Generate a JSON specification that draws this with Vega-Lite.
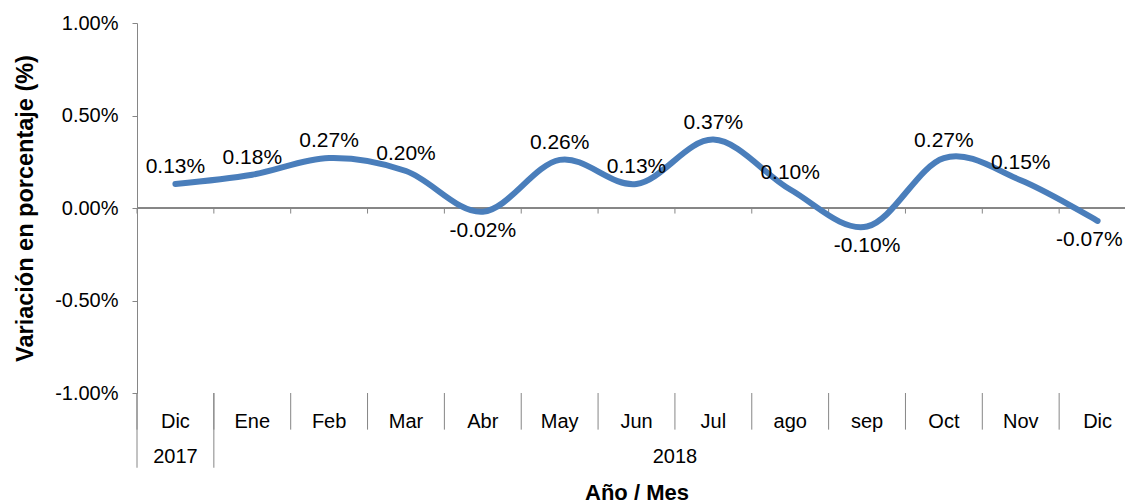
{
  "$schema": "https://vega.github.io/schema/vega-lite/v6.json",
  "width": 999,
  "height": 370,
  "autosize": {"type": "none"},
  "padding": {"left": 137, "top": 23, "right": 0, "bottom": 111},
  "config": {
    "view": {"stroke": null},
    "font": "Liberation Sans",
    "locale": {
      "number": {"decimal": ".", "thousands": ",", "grouping": [3], "currency": ["$", ""], "minus": "-"}
    }
  },
  "datasets": {
    "serie": [
      {"clave": "Dic-2017", "mes": "Dic", "anio": "2017", "variacion": 0.0013},
      {"clave": "Ene-2018", "mes": "Ene", "anio": "2018", "variacion": 0.0018},
      {"clave": "Feb-2018", "mes": "Feb", "anio": "2018", "variacion": 0.0027},
      {"clave": "Mar-2018", "mes": "Mar", "anio": "2018", "variacion": 0.0020},
      {"clave": "Abr-2018", "mes": "Abr", "anio": "2018", "variacion": -0.0002},
      {"clave": "May-2018", "mes": "May", "anio": "2018", "variacion": 0.0026},
      {"clave": "Jun-2018", "mes": "Jun", "anio": "2018", "variacion": 0.0013},
      {"clave": "Jul-2018", "mes": "Jul", "anio": "2018", "variacion": 0.0037},
      {"clave": "ago-2018", "mes": "ago", "anio": "2018", "variacion": 0.0010},
      {"clave": "sep-2018", "mes": "sep", "anio": "2018", "variacion": -0.0010},
      {"clave": "Oct-2018", "mes": "Oct", "anio": "2018", "variacion": 0.0027},
      {"clave": "Nov-2018", "mes": "Nov", "anio": "2018", "variacion": 0.0015},
      {"clave": "Dic-2018", "mes": "Dic", "anio": "2018", "variacion": -0.0007}
    ],
    "anios": [
      {"anio": "2017", "clave": "Dic-2017"},
      {"anio": "2018", "clave": "Jun-2018"}
    ],
    "separadores": [
      {"clave": "Dic-2017"},
      {"clave": "Ene-2018"}
    ]
  },
  "data": {"name": "serie"},
  "layer": [
    {
      "mark": {"type": "rule", "color": "#868686", "strokeWidth": 1},
      "encoding": {"y": {"datum": 0}}
    },
    {
      "mark": {"type": "rule", "color": "#868686", "strokeWidth": 1},
      "encoding": {
        "x": {"field": "clave", "type": "nominal", "bandPosition": 0, "title": "Año / Mes"},
        "y": {"datum": 0},
        "y2": {"datum": -0.0003}
      }
    },
    {
      "mark": {"type": "rule", "color": "#868686", "strokeWidth": 1, "clip": false},
      "encoding": {
        "x": {"field": "clave", "type": "nominal", "bandPosition": 0, "title": "Año / Mes"},
        "y": {"datum": -0.01},
        "y2": {"datum": -0.01198}
      }
    },
    {
      "data": {"name": "separadores"},
      "mark": {"type": "rule", "color": "#868686", "strokeWidth": 1, "clip": false},
      "encoding": {
        "x": {"field": "clave", "type": "nominal", "bandPosition": 0, "title": "Año / Mes"},
        "y": {"datum": -0.01},
        "y2": {"datum": -0.01404}
      }
    },
    {
      "mark": {"type": "line", "interpolate": "cardinal", "strokeWidth": 6, "color": "#4A7EBB", "strokeCap": "round", "strokeJoin": "round"},
      "encoding": {
        "x": {
          "field": "clave",
          "type": "nominal",
          "title": "Año / Mes",
          "sort": null,
          "scale": {
            "domain": ["Dic-2017", "Ene-2018", "Feb-2018", "Mar-2018", "Abr-2018", "May-2018", "Jun-2018", "Jul-2018", "ago-2018", "sep-2018", "Oct-2018", "Nov-2018", "Dic-2018"],
            "paddingInner": 0,
            "paddingOuter": 0
          },
          "axis": {
            "orient": "bottom",
            "domain": false,
            "grid": false,
            "ticks": false,
            "labelExpr": "split(datum.value, '-')[0]",
            "labelAngle": 0,
            "labelAlign": "center",
            "labelFontSize": 20,
            "labelColor": "#000000",
            "labelPadding": 34,
            "labelBaseline": "alphabetic",
            "titleFontSize": 22,
            "titleFontWeight": "bold",
            "titleColor": "#000000",
            "titleY": 106,
            "titleBaseline": "alphabetic"
          }
        },
        "y": {
          "field": "variacion",
          "type": "quantitative",
          "scale": {"domain": [-0.01, 0.01], "nice": false, "zero": false},
          "axis": {
            "title": "Variación en porcentaje (%)",
            "format": ".2%",
            "values": [-0.01, -0.005, 0, 0.005, 0.01],
            "grid": false,
            "domainColor": "#868686",
            "tickColor": "#868686",
            "tickSize": 5,
            "labelFontSize": 20,
            "labelColor": "#000000",
            "labelPadding": 14,
            "titleFontSize": 23.5,
            "titleFontWeight": "bold",
            "titleColor": "#000000",
            "titleX": -105,
            "titleY": 185,
            "titleAngle": -90,
            "titleAlign": "center",
            "titleBaseline": "alphabetic"
          }
        }
      }
    },
    {
      "transform": [{"filter": "datum.variacion >= 0"}],
      "mark": {"type": "text", "fontSize": 21, "baseline": "alphabetic", "dy": -11, "color": "#000000"},
      "encoding": {
        "x": {"field": "clave", "type": "nominal", "title": "Año / Mes"},
        "y": {"field": "variacion", "type": "quantitative"},
        "text": {"field": "variacion", "type": "quantitative", "format": ".2%"}
      }
    },
    {
      "transform": [{"filter": "datum.variacion < 0 && datum.clave != 'Dic-2018'"}],
      "mark": {"type": "text", "fontSize": 21, "baseline": "alphabetic", "dy": 25, "color": "#000000"},
      "encoding": {
        "x": {"field": "clave", "type": "nominal", "title": "Año / Mes"},
        "y": {"field": "variacion", "type": "quantitative"},
        "text": {"field": "variacion", "type": "quantitative", "format": ".2%"}
      }
    },
    {
      "transform": [{"filter": "datum.clave == 'Dic-2018'"}],
      "mark": {"type": "text", "fontSize": 21, "baseline": "alphabetic", "align": "right", "dx": 25, "dy": 25, "color": "#000000"},
      "encoding": {
        "x": {"field": "clave", "type": "nominal", "title": "Año / Mes"},
        "y": {"field": "variacion", "type": "quantitative"},
        "text": {"field": "variacion", "type": "quantitative", "format": ".2%"}
      }
    },
    {
      "data": {"name": "anios"},
      "transform": [{"filter": "datum.anio == '2017'"}],
      "mark": {"type": "text", "fontSize": 20, "baseline": "alphabetic", "color": "#000000", "clip": false},
      "encoding": {
        "x": {"field": "clave", "type": "nominal", "title": "Año / Mes"},
        "y": {"datum": -0.01377},
        "text": {"field": "anio"}
      }
    },
    {
      "data": {"name": "anios"},
      "transform": [{"filter": "datum.anio == '2018'"}],
      "mark": {"type": "text", "fontSize": 20, "baseline": "alphabetic", "color": "#000000", "clip": false},
      "encoding": {
        "x": {"field": "clave", "type": "nominal", "bandPosition": 1, "title": "Año / Mes"},
        "y": {"datum": -0.01377},
        "text": {"field": "anio"}
      }
    }
  ]
}
